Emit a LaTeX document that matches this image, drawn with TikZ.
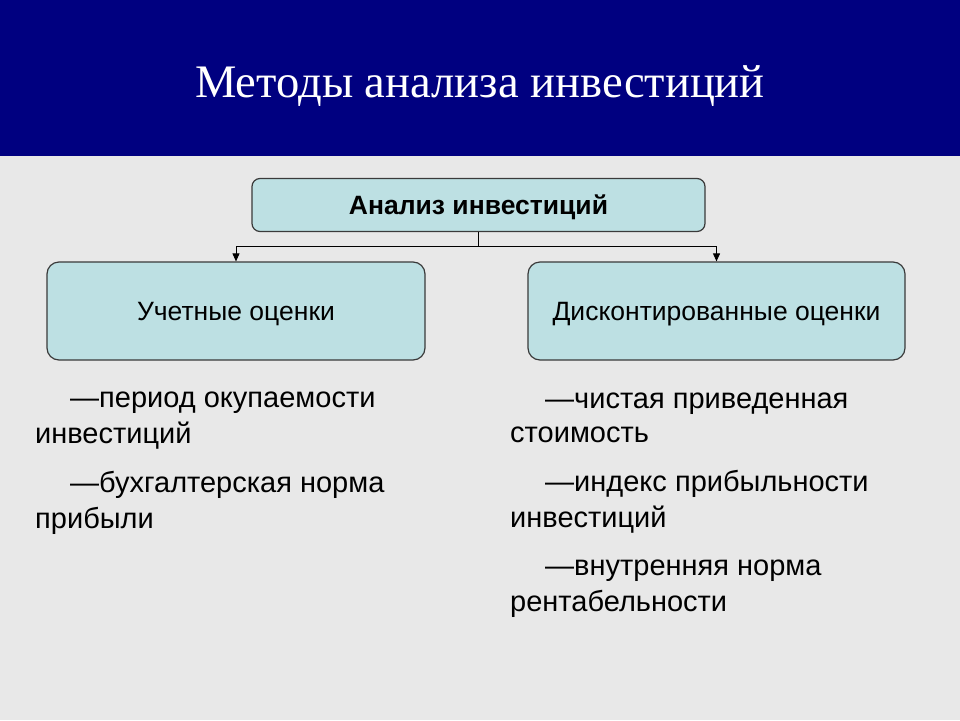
\documentclass[tikz,border=0pt]{standalone}
\usepackage{fontspec}
\setmainfont{Liberation Sans}
\newfontfamily\titlefont{Liberation Serif}
\usetikzlibrary{arrows.meta}
\definecolor{navy}{HTML}{000080}
\definecolor{bggray}{HTML}{E8E8E8}
\definecolor{boxfill}{HTML}{BDE0E3}
\definecolor{boxline}{HTML}{3A3A3A}
\begin{document}
\begin{tikzpicture}[x=1pt,y=-1pt,
  box/.style={draw=boxline, line width=1.2pt, fill=boxfill, rounded corners=12pt, inner sep=0pt, text height=19pt, text depth=0pt},
  conn/.style={draw=black, line width=0.9pt},
  arr/.style={conn, -{Triangle[length=8pt,width=7pt]}},
  item/.style={anchor=base west, inner sep=0pt, font=\fontsize{29}{36}\selectfont}]
\fill[bggray] (0,0) rectangle (960,720);
\fill[navy] (0,0) rectangle (960,156);
\useasboundingbox (0,0) rectangle (960,720);
\node[text=white, font=\titlefont\fontsize{46.6}{50}\selectfont, anchor=base, inner sep=0pt] (title) at (480,97) {Методы анализа инвестиций};
\node[box, minimum width=453pt, minimum height=53pt, rounded corners=8pt, font=\bfseries\fontsize{26.5}{30}\selectfont] (top) at (478.5,205) {Анализ инвестиций};
\node[box, minimum width=378pt, minimum height=98pt, font=\fontsize{26.5}{30}\selectfont] (left) at (236,311) {Учетные оценки};
\node[box, minimum width=377pt, minimum height=98pt, font=\fontsize{26.5}{30}\selectfont] (right) at (716.5,311) {Дисконтированные оценки};
\coordinate (j) at (478.5,246);
\draw[conn] (top.south) -- (j);
\draw[arr] (j) -| (left.north);
\draw[arr] (j) -| (right.north);
\node[item] (l1a) at (70,407) {—период окупаемости};
\node[item] (l1b) at (35,443) {инвестиций};
\node[item] (l2a) at (70,492) {—бухгалтерская норма};
\node[item] (l2b) at (35,528) {прибыли};
\node[item] (r1a) at (545,408) {—чистая приведенная};
\node[item] (r1b) at (510,442) {стоимость};
\node[item] (r2a) at (545,491) {—индекс прибыльности};
\node[item] (r2b) at (510,527) {инвестиций};
\node[item] (r3a) at (545,575) {—внутренняя норма};
\node[item] (r3b) at (510,611) {рентабельности};
\end{tikzpicture}
\end{document}
